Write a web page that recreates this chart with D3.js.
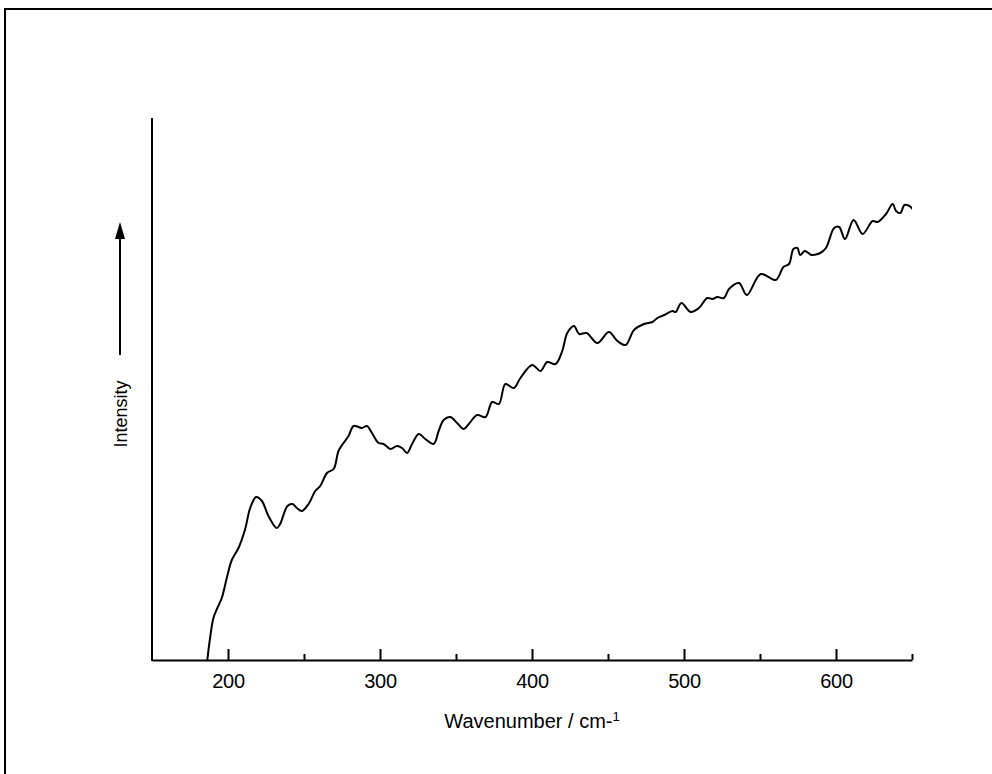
<!DOCTYPE html>
<html>
<head>
<meta charset="utf-8">
<script src="https://cdn.jsdelivr.net/npm/d3@7"></script>
<style>
  html, body { margin: 0; padding: 0; background: #fff; overflow: hidden; }
  svg { display: block; }
  svg text { font-family: "Liberation Sans", Arial, Helvetica, sans-serif; fill: #000; }
</style>
</head>
<body>
<svg id="chart" width="992" height="774"></svg>
<script>
// Spectrum (arbitrary intensity units)
const wavenumber = [186.4, 188.2, 190.4, 193, 195.9, 199.2, 202.5, 206.9, 211.3, 214.6, 218.5, 222.3,
  226.6, 232.1, 234.3, 239.1, 242.4, 245.3, 248.6, 253, 257.4, 260.7, 265.1, 269.5, 272.7, 276, 279.3,
  282.6, 285.9, 288.1, 291.4, 294.7, 299.1, 302.4, 306.8, 311.2, 314.5, 317.8, 321.1, 325.5, 329.8,
  335.3, 338.6, 341.9, 346.3, 350.7, 355.1, 358.4, 363.9, 369.4, 373.8, 378.2, 382.5, 388, 392.4,
  400.1, 405.6, 410, 415.5, 419.9, 423.2, 427.6, 431, 435.9, 443, 450.6, 456.2, 461.6, 467.1, 473.7,
  479.2, 482.5, 487, 492.4, 494.5, 498.3, 504.3, 509.8, 515.3, 518.6, 521.9, 526.3, 529.6, 536.2,
  541.3, 550.5, 560.4, 565.4, 569.1, 572, 574.6, 576.4, 579.5, 583.9, 589.6, 593.4, 598.8, 602.1,
  605.9, 611.6, 617.5, 624.1, 627.4, 632.9, 637.3, 639.5, 642.4, 645, 648.3, 650.5];
const intensity = [0, 22, 42, 52, 62, 82, 100, 112, 131, 152, 163, 159,
  144, 132, 136, 154, 156, 152, 149, 156, 169, 174, 187, 191, 209, 217, 224,
  234, 233, 232, 234, 227, 217, 216, 211, 214, 212, 207, 216, 226, 221,
  216, 229, 240, 243, 237, 231, 236, 245, 243, 258, 256, 276, 272, 282,
  295, 289, 298, 296, 309, 327, 334, 326, 327, 317, 328, 319, 315, 330, 336,
  338, 342, 345, 349, 348, 357, 348, 352, 362, 361, 363, 362, 371, 377,
  365, 386, 380, 393, 396, 411, 412, 405, 409, 405, 407, 412, 432, 433,
  421, 440, 426, 439, 438, 446, 456, 449, 447, 455, 454, 451];

const majorTicks = [200, 300, 400, 500, 600];
const minorTicks = [250, 350, 450, 550, 650];
const xLabel = 'Wavenumber / cm';
const yLabel = 'Intensity';

const svg = d3.select('#chart');
const width = +svg.attr('width');
const height = +svg.attr('height');

// frame round the figure (only top and left fall inside the picture)
svg.append('path')
  .attr('d', `M5,${height} L5,9 L${width},9`)
  .attr('fill', 'none')
  .attr('stroke', '#000')
  .attr('stroke-width', 2);

const x = d3.scaleLinear().domain([150, 650]).range([152, 912]);
const y = d3.scaleLinear().domain([0, 542]).range([660, 118]);

// x axis: major ticks with labels, minor ticks without
const xAxis = svg.append('g')
  .attr('transform', `translate(0,${y(0)})`)
  .call(d3.axisBottom(x).tickValues(majorTicks).tickSizeInner(-11).tickSizeOuter(0).tickPadding(14).tickFormat(d3.format('d')));
xAxis.select('.domain').attr('stroke-width', 2);
xAxis.selectAll('.tick line').attr('stroke-width', 2);
xAxis.selectAll('.tick text')
  .attr('font-size', 20)
  .attr('letter-spacing', '-0.3px')
  .style('font-family', '"Liberation Sans", Arial, sans-serif');

const xMinor = svg.append('g')
  .attr('transform', `translate(0,${y(0)})`)
  .call(d3.axisBottom(x).tickValues(minorTicks).tickSizeInner(-6).tickSizeOuter(0).tickFormat(''));
xMinor.select('.domain').remove();
xMinor.selectAll('.tick line').attr('stroke-width', 2);

// y axis: plain line, no ticks
svg.append('line')
  .attr('x1', x(150)).attr('x2', x(150))
  .attr('y1', y(0) + 1).attr('y2', y(542))
  .attr('stroke', '#000')
  .attr('stroke-width', 2);

// spectrum
const pts = wavenumber.map((w, i) => [w, intensity[i]]);
svg.append('defs').append('clipPath').attr('id', 'plot-clip')
  .append('rect')
  .attr('x', x(150)).attr('y', y(542))
  .attr('width', x(650) - x(150)).attr('height', y(0) - y(542));

svg.append('path')
  .datum(pts)
  .attr('clip-path', 'url(#plot-clip)')
  .attr('fill', 'none')
  .attr('stroke', '#000')
  .attr('stroke-width', 2)
  .attr('stroke-linejoin', 'round')
  .attr('d', d3.line().x(d => x(d[0])).y(d => y(d[1])).curve(d3.curveCatmullRom.alpha(0.5)));

// x label with superscript
const xl = svg.append('text')
  .attr('x', (x(150) + x(650)) / 2)
  .attr('y', 728)
  .attr('text-anchor', 'middle')
  .attr('font-size', 20)
  .text(xLabel + '-');
xl.append('tspan')
  .attr('font-size', 13)
  .attr('dy', -7)
  .text('1');

// y label with arrow
svg.append('text')
  .attr('transform', 'translate(127,414) rotate(-90)')
  .attr('text-anchor', 'middle')
  .attr('font-size', 18)
  .text(yLabel);

svg.append('line')
  .attr('x1', 120).attr('x2', 120)
  .attr('y1', 355).attr('y2', 236)
  .attr('stroke', '#000')
  .attr('stroke-width', 2);
svg.append('path')
  .attr('d', 'M120,222 L115,239 L125,239 Z')
  .attr('fill', '#000');
</script>
</body>
</html>
